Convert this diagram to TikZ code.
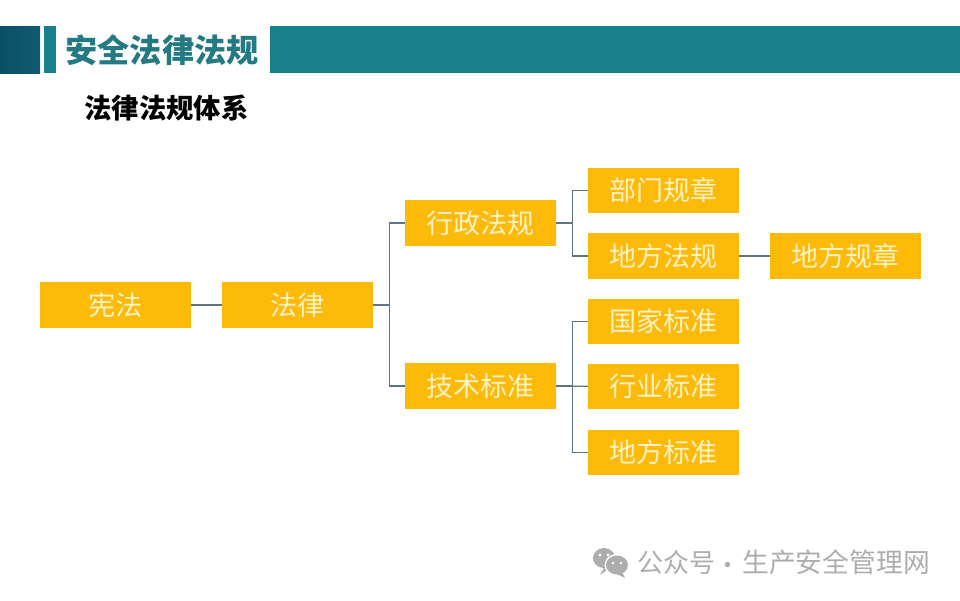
\documentclass[tikz,border=0pt]{standalone}
\usepackage{fontspec}
\setmainfont{Noto Sans CJK SC}
\usetikzlibrary{calc}
\definecolor{boxgold}{HTML}{FDBA08}
\definecolor{boxtext}{HTML}{FFF2C4}
\definecolor{barteal}{HTML}{17808A}
\definecolor{bardark}{HTML}{0B4F66}
\definecolor{titleteal}{HTML}{237A82}
\definecolor{linkgray}{HTML}{5F7480}
\definecolor{markgray}{HTML}{ADADAD}
\tikzset{
  lawbox/.style={fill=boxgold,text=boxtext,minimum width=151pt,minimum height=45.5pt,inner sep=0pt,font=\fontsize{27}{28}\selectfont},
  link/.style={draw=linkgray,line width=1.2pt},
  headbar/.style={fill=barteal,draw=none}
}

\begin{document}
\begin{tikzpicture}[x=1pt,y=-1pt]
        \useasboundingbox (0,0) rectangle (960,600);
        % Header bars
        \fill[left color=bardark,right color=bardark!75!barteal] (0,26) rectangle (40,73);
        \fill[headbar] (44,26) rectangle (56,73);
        \fill[headbar] (270,26) rectangle (960,73);
        \node[text=titleteal,font=\fontsize{32.2}{33}\bfseries] (title) at (162,50.5) {安全法律法规};
        \node[text=black,font=\fontsize{27.3}{28}\bfseries] (subtitle) at (166.5,107.5) {法律法规体系};
        % Place the boxes
        \node[lawbox] (xianfa) at (115.5,305) {宪法};
        \node[lawbox] (falv) at (297.5,305) {法律};
        \node[lawbox] (xingzheng) at (480.5,223) {行政法规};
        \node[lawbox] (jishu) at (480.5,386) {技术标准};
        \node[lawbox] (bumen) at (663.5,190.5) {部门规章};
        \node[lawbox] (difang) at (663.5,256) {地方法规};
        \node[lawbox] (difangzhang) at (845.5,256) {地方规章};
        \node[lawbox] (guojia) at (663.5,321.5) {国家标准};
        \node[lawbox] (hangye) at (663.5,386.5) {行业标准};
        \node[lawbox] (difangbiao) at (663.5,452.5) {地方标准};
        % Connect the boxes
        \draw[link] (xianfa) -- (falv);
        \draw[link] (difang) -- (difangzhang);
        \draw[link] (jishu) -- (hangye);
        \foreach \a/\b in {falv/xingzheng,falv/jishu,xingzheng/bumen,xingzheng/difang,jishu/guojia,jishu/difangbiao}
          \draw[link] (\a.east) -- ++(16,0) |- (\b.west);
        % Watermark in the corner
        \fill[markgray] (604,558) ellipse (11 and 10);
        \fill[markgray] (604,568) -- (600,575) -- (610,568) -- cycle;
        \fill[white] (617,565) ellipse (12.5 and 11);
        \fill[markgray] (617,565) ellipse (11 and 9.5);
        \fill[markgray] (622,572) -- (625,578) -- (615,573) -- cycle;
        \fill[white] (600,555) circle (1.6) (608,555) circle (1.6) (613,563) circle (1.4) (621,563) circle (1.4);
        \node[text=markgray,font=\fontsize{26}{27}\selectfont,anchor=west,inner sep=0pt] (gzh) at (637,562.5) {公众号};
        \node[text=markgray,font=\fontsize{25}{26}\selectfont,inner sep=0pt] (dot) at (727.5,568.5) {·};
        \node[text=markgray,font=\fontsize{26.8}{27}\selectfont,anchor=east,inner sep=0pt] (site) at (930,562.5) {生产安全管理网};
    \end{tikzpicture}
\end{document}
